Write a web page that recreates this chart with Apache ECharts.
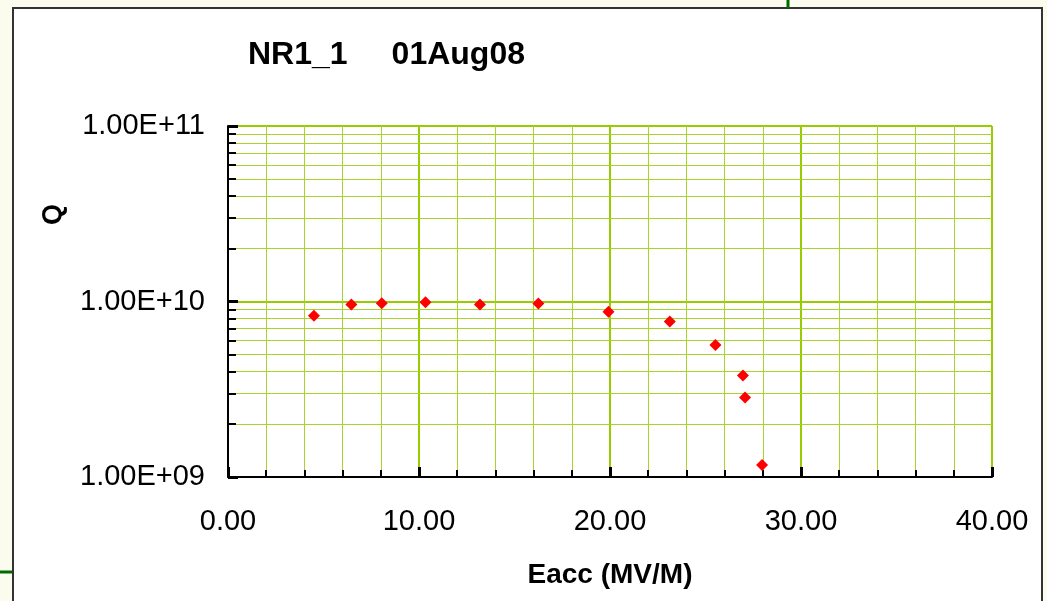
<!DOCTYPE html>
<html>
<head>
<meta charset="utf-8">
<script src="https://cdn.jsdelivr.net/npm/echarts@6/dist/echarts.min.js"></script>
<style>
  html, body { margin: 0; padding: 0; }
  #chart { width: 1047px; height: 601px; }
</style>
</head>
<body>
<div id="chart"></div>
<script>
// Q vs Eacc, NR1_1 01Aug08

var eacc = [4.50, 6.46, 8.05, 10.34, 13.19, 16.25, 19.92, 23.13, 25.52, 26.96, 27.07, 27.96];
var qValues = [8.29e9, 9.61e9, 9.78e9, 9.91e9, 9.61e9, 9.74e9, 8.74e9, 7.69e9, 5.66e9, 3.79e9, 2.84e9, 1.17e9];

var xTickLabels = ['0.00', '10.00', '20.00', '30.00', '40.00'];
var yTickLabels = ['1.00E+09', '1.00E+10', '1.00E+11'];
// minor log grid lines between the decades
var yMinorTicks = [2e9, 3e9, 4e9, 5e9, 6e9, 7e9, 8e9, 9e9, 2e10, 3e10, 4e10, 5e10, 6e10, 7e10, 8e10, 9e10];

var font = 'Liberation Sans, Arial, sans-serif';

document.addEventListener('DOMContentLoaded', () => {
    var chart = echarts.init(document.querySelector('#chart'));

    var minorLines = [];
    yMinorTicks.forEach(v => {
        minorLines.push({ yAxis: v, lineStyle: { color: '#a8d32a', width: 1, type: 'solid' } });
    });
    yMinorTicks.forEach(v => {
        minorLines.push([
            { coord: [0, v], lineStyle: { color: '#000', width: 2, type: 'solid' } },
            { coord: [0.42, v] }
        ]);
    });

    chart.setOption({
        animation: false,
        backgroundColor: '#fcfcee',
        title: {
            text: '{a|NR1_1}{b|01Aug08}',
            left: 243,
            top: 34,
            textStyle: {
                rich: {
                    a: { fontFamily: font, fontWeight: 'bold', fontSize: 32, color: '#000' },
                    b: { fontFamily: font, fontWeight: 'bold', fontSize: 32, color: '#000', padding: [0, 0, 0, 44] }
                }
            }
        },
        graphic: [
            {
                type: 'rect', z: -10,
                shape: { x: 13, y: 8, width: 1029, height: 605 },
                style: { fill: '#fff', stroke: '#333', lineWidth: 2 }
            },
            {
                type: 'line', z: -5,
                shape: { x1: 788, y1: 0, x2: 788, y2: 8 },
                style: { stroke: '#006a00', lineWidth: 3 }
            },
            {
                type: 'line', z: -5,
                shape: { x1: 0, y1: 572, x2: 12, y2: 572 },
                style: { stroke: '#006a00', lineWidth: 3 }
            },
            {
                type: 'text',
                x: 40, y: 225,
                rotation: Math.PI / 2,
                style: { text: 'Q', font: 'bold 27px ' + font, fill: '#000' }
            }
        ],
        grid: {
            left: 228,
            right: 55,
            top: 126,
            bottom: 124,
            show: true,
            backgroundColor: '#fff',
            borderColor: '#808080',
            borderWidth: 1
        },
        xAxis: {
            type: 'value',
            min: 0,
            max: 40,
            interval: 10,
            name: 'Eacc (MV/M)',
            nameLocation: 'middle',
            nameGap: 84,
            nameTextStyle: { fontFamily: font, fontWeight: 'bold', fontSize: 28, color: '#000' },
            axisLine: { lineStyle: { color: '#000', width: 2 } },
            axisTick: { inside: true, length: 10, lineStyle: { color: '#000', width: 3 } },
            minorTick: { show: true, splitNumber: 5, length: 7, lineStyle: { color: '#000', width: 2 } },
            splitLine: { show: true, lineStyle: { color: '#99cc00', width: 2 } },
            minorSplitLine: { show: true, lineStyle: { color: '#a8d32a', width: 1 } },
            axisLabel: {
                margin: 30,
                fontFamily: font,
                fontSize: 29,
                color: '#000',
                formatter: v => xTickLabels[Math.round(v / 10)]
            }
        },
        yAxis: {
            type: 'log',
            logBase: 10,
            min: 1e9,
            max: 1e11,
            axisLine: { show: true, lineStyle: { color: '#000', width: 2 } },
            axisTick: { show: true, inside: true, length: 10, lineStyle: { color: '#000', width: 3 } },
            splitLine: { show: true, lineStyle: { color: '#99cc00', width: 2 } },
            axisLabel: {
                margin: 23,
                fontFamily: font,
                fontSize: 29,
                color: '#000',
                padding: [5, 0, 0, 0],
                formatter: v => yTickLabels[Math.round(Math.log10(v)) - 9]
            }
        },
        series: [
            {
                name: 'grid',
                type: 'line',
                data: [],
                silent: true,
                z: 1,
                markLine: {
                    silent: true,
                    symbol: ['none', 'none'],
                    label: { show: false },
                    data: minorLines
                }
            },
            {
                name: 'Q',
                type: 'scatter',
                z: 5,
                symbol: 'diamond',
                symbolSize: 12,
                itemStyle: { color: '#ff0000', opacity: 1 },
                data: eacc.map((x, i) => [x, qValues[i]])
            }
        ]
    });
});
</script>
</body>
</html>
